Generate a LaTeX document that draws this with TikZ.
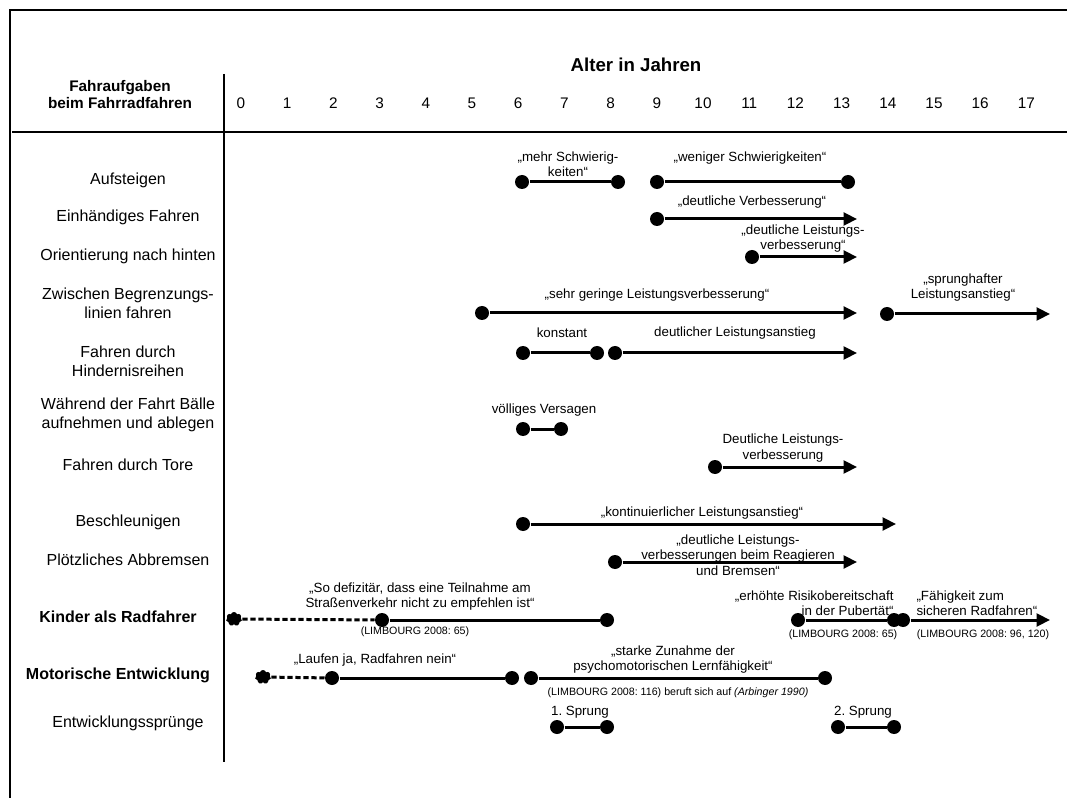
\documentclass[tikz,border=0pt]{standalone}
\usepackage{fontspec}
\setmainfont{Liberation Sans}
\usetikzlibrary{arrows.meta,shapes.symbols}
\frenchspacing

\tikzset{every picture/.style={line width=0.75pt}}
\tikzset{
  task/.style={align=center, inner sep=0.75pt, font=\fontsize{12}{14.5}\selectfont},
  taskbold/.style={align=center, inner sep=0.75pt, font=\fontsize{12}{14.5}\selectfont\bfseries},
  lbl/.style={align=center, inner sep=0.75pt, font=\fontsize{10}{11.5}\selectfont},
  quelle/.style={inner sep=0.75pt, font=\fontsize{8}{9.6}\selectfont},
  jahr/.style={inner sep=0.75pt, font=\fontsize{11.5}{13}\selectfont},
  punkt/.style={circle, fill=black, inner sep=0pt, minimum size=10.5pt},
  klecks/.style={cloud, cloud puffs=7, fill=black, inner sep=0pt, minimum width=12pt, minimum height=10.5pt},
  verlauf/.style={line width=2.25pt},
  pfeil/.style={verlauf, -{Triangle[length=10pt,width=9.5pt]}},
  gestrichelt/.style={verlauf, dash pattern=on 4pt off 2pt},
}

\begin{document}
\begin{tikzpicture}[x=0.75pt,y=0.75pt,yscale=-1,xscale=1]
\useasboundingbox (0,0) rectangle (1067,798);

%Straight Lines [frame]
\draw[line width=1.5pt] (1067,10) -- (10,10) -- (10,798);
%Straight Lines [head]
\draw[line width=1.1pt] (12,132) -- (1067,132);
%Straight Lines [axis]
\draw[line width=1.1pt] (224,74) -- (224,762);

% Text Node
\node[font=\fontsize{14}{16}\selectfont\bfseries, inner sep=0.75pt] (alter) at (636,65) {Alter in Jahren};
% Text Node
\node[align=center, inner sep=0.75pt, font=\fontsize{11.5}{13}\selectfont\bfseries] (kopf) at (120,94.5) {Fahraufgaben\\beim Fahrradfahren};
% Text Node
\foreach \n in {0,...,17}
  \node[jahr] (j\n) at ({241+46.2*\n},103) {\n};

% Aufsteigen
\node[task] (aufst) at (128,180) {Aufsteigen};
\node[punkt] (a1) at (522,182) {};
\node[punkt] (a2) at (618,182) {};
\node[punkt] (a3) at (657,182) {};
\node[punkt] (a4) at (848,182) {};
\draw[verlauf] (a1) -- (a2);
\draw[verlauf] (a3) -- (a4);
\node[lbl] (la1) at (568,164.5) {„mehr Schwierig-\\keiten“};
\node[lbl] (la2) at (750,158) {„weniger Schwierigkeiten“};

% Einhaendiges Fahren
\node[task] (einh) at (128,217) {Einhändiges Fahren};
\node[punkt] (e1) at (657,219) {};
\coordinate (e2) at (857,219);
\draw[pfeil] (e1) -- (e2);
\node[lbl] (le1) at (752,202) {„deutliche Verbesserung“};

% Orientierung nach hinten
\node[task] (orient) at (128,256) {Orientierung nach hinten};
\node[punkt] (o1) at (752,257) {};
\coordinate (o2) at (857,257);
\draw[pfeil] (o1) -- (o2);
\node[lbl] (lo1) at (803,238.5) {„deutliche Leistungs-\\verbesserung“};

% Zwischen Begrenzungslinien fahren
\node[task] (zwischen) at (128,303) {Zwischen Begrenzungs-\\linien fahren};
\node[punkt] (z1) at (482,313) {};
\coordinate (z2) at (857,313);
\node[punkt] (z3) at (887,314) {};
\coordinate (z4) at (1050,314);
\draw[pfeil] (z1) -- (z2);
\draw[pfeil] (z3) -- (z4);
\node[lbl] (lz1) at (657,295) {„sehr geringe Leistungsverbesserung“};
\node[lbl] (lz2) at (963,287.5) {„sprunghafter\\Leistungsanstieg“};

% Fahren durch Hindernisreihen
\node[task] (hindernis) at (128,361) {Fahren durch\\Hindernisreihen};
\node[punkt] (h1) at (523,353) {};
\node[punkt] (h2) at (597,353) {};
\node[punkt] (h3) at (615,353) {};
\coordinate (h4) at (857,353);
\draw[verlauf] (h1) -- (h2);
\draw[pfeil] (h3) -- (h4);
\node[lbl] (lh1) at (562,333) {konstant};
\node[lbl] (lh2) at (735,333) {deutlicher Leistungsanstieg};

% Baelle aufnehmen
\node[task] (baelle) at (128,415) {Während der Fahrt Bälle\\aufnehmen und ablegen};
\node[punkt] (w1) at (523,429) {};
\node[punkt] (w2) at (561,429) {};
\draw[verlauf] (w1) -- (w2);
\node[lbl] (lw1) at (544,410) {völliges Versagen};

% Fahren durch Tore
\node[task] (tore) at (128,465) {Fahren durch Tore};
\node[punkt] (t1) at (715,467) {};
\coordinate (t2) at (857,467);
\draw[pfeil] (t1) -- (t2);
\node[lbl] (lt1) at (783,448) {Deutliche Leistungs-\\verbesserung};

% Beschleunigen
\node[task] (beschl) at (128,522) {Beschleunigen};
\node[punkt] (b1) at (523,524) {};
\coordinate (b2) at (896,524);
\draw[pfeil] (b1) -- (b2);
\node[lbl] (lb1) at (702,513) {„kontinuierlicher Leistungsanstieg“};

% Ploetzliches Abbremsen
\node[task] (brems) at (128,560) {Plötzliches Abbremsen};
\node[punkt] (p1) at (615,562) {};
\coordinate (p2) at (857,562);
\draw[pfeil] (p1) -- (p2);
\node[lbl] (lp1) at (738,555) {„deutliche Leistungs-\\verbesserungen beim Reagieren\\und Bremsen“};

% Kinder als Radfahrer
\node[taskbold] (kinder) at (118,617) {Kinder als Radfahrer};
\node[klecks] (k0) at (234,619) {};
\node[punkt] (k1) at (382,620) {};
\node[punkt] (k2) at (607,620) {};
\node[punkt] (k3) at (798,620) {};
\node[punkt] (k4) at (894,620) {};
\node[punkt] (k5) at (903,620) {};
\coordinate (k6) at (1050,620);
\draw[gestrichelt] (k0) -- (k1);
\draw[verlauf] (k1) -- (k2);
\draw[verlauf] (k3) -- (k4);
\draw[pfeil] (k5) -- (k6);
\node[lbl] (lk1) at (420,596.5) {„So defizitär, dass eine Teilnahme am\\Straßenverkehr nicht zu empfehlen ist“};
\node[quelle] (qk1) at (415,632) {(LIMBOURG 2008: 65)};
\node[lbl, align=right, anchor=east] (lk2) at (895,603) {„erhöhte Risikobereitschaft\\in der Pubertät“};
\node[lbl, align=left, anchor=west] (lk3) at (915,603) {„Fähigkeit zum\\sicheren Radfahren“};
\node[quelle] (qk2) at (843,635) {(LIMBOURG 2008: 65)};
\node[quelle] (qk3) at (983,635) {(LIMBOURG 2008: 96, 120)};

% Motorische Entwicklung
\node[taskbold] (motorik) at (118,675) {Motorische Entwicklung};
\node[klecks] (m0) at (263,677) {};
\node[punkt] (m1) at (332,678) {};
\node[punkt] (m2) at (512,678) {};
\node[punkt] (m3) at (531,678) {};
\node[punkt] (m4) at (825,678) {};
\draw[gestrichelt] (m0) -- (m1);
\draw[verlauf] (m1) -- (m2);
\draw[verlauf] (m3) -- (m4);
\node[lbl] (lm1) at (375,660) {„Laufen ja, Radfahren nein“};
\node[lbl] (lm2) at (673,659.5) {„starke Zunahme der\\psychomotorischen Lernfähigkeit“};
\node[quelle] (qm) at (678,693) {(LIMBOURG 2008: 116) beruft sich auf \textit{(Arbinger 1990)}};

% Entwicklungsspruenge
\node[task] (spruenge) at (128,723) {Entwicklungssprünge};
\node[punkt] (s1) at (557,727) {};
\node[punkt] (s2) at (607,727) {};
\node[punkt] (s3) at (838,727) {};
\node[punkt] (s4) at (894,727) {};
\draw[verlauf] (s1) -- (s2);
\draw[verlauf] (s3) -- (s4);
\node[lbl] (ls1) at (580,712) {1. Sprung};
\node[lbl] (ls2) at (863,712) {2. Sprung};

\end{tikzpicture}
\end{document}
